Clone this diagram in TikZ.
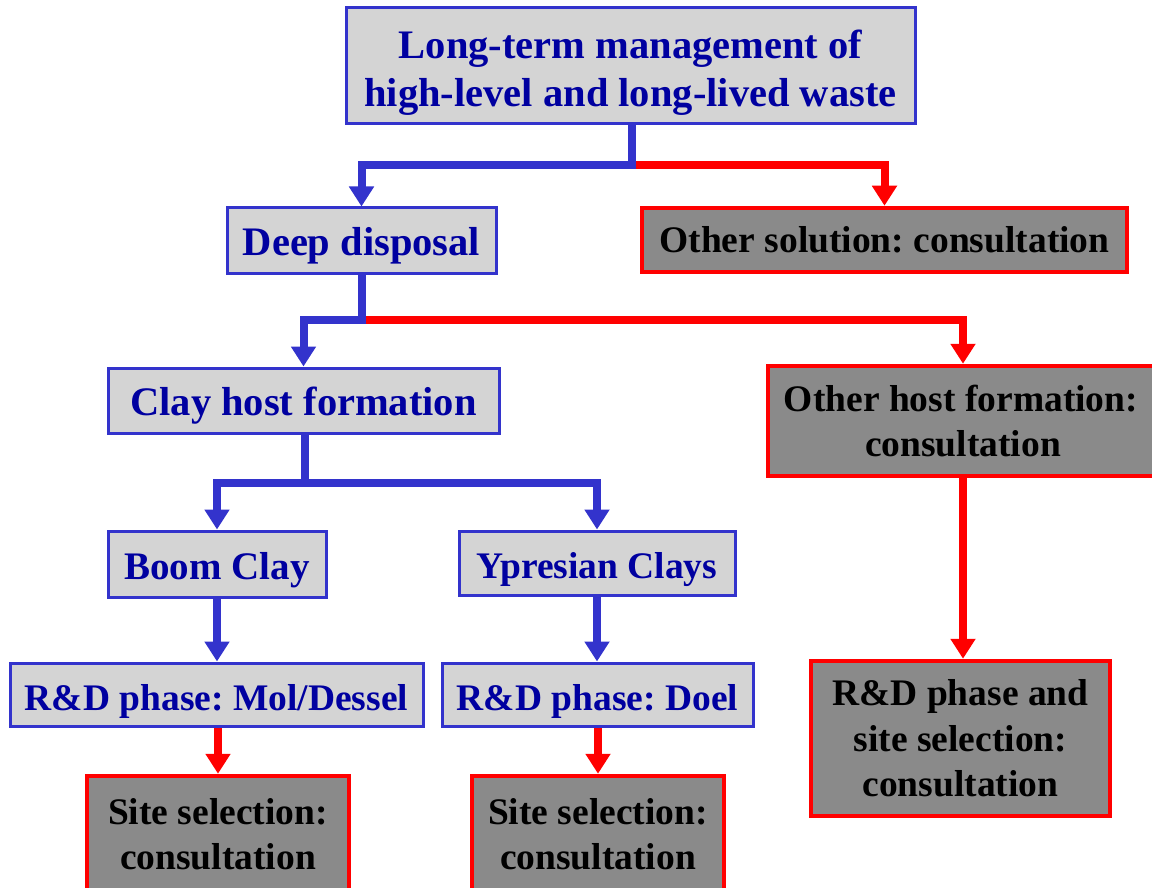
\documentclass[tikz,border=0pt]{standalone}
\usepackage{fontspec}
\setmainfont{Liberation Serif}
\usetikzlibrary{arrows.meta}
\definecolor{lineblue}{RGB}{51,51,204}
\definecolor{textblue}{RGB}{0,0,160}
\definecolor{linered}{RGB}{255,0,0}
\definecolor{lightfill}{RGB}{212,212,212}
\definecolor{darkfill}{RGB}{138,138,138}
\newcommand{\lowstrut}[1]{\rule{0pt}{#1}}
\tikzset{
  bluebox/.style={draw=lineblue, line width=3pt, fill=lightfill, text=textblue,
    font=\fontsize{40.5}{48}\selectfont\bfseries, align=center, inner sep=0pt,
    execute at begin node={\frenchspacing\lowstrut{39pt}}},
  smallblue/.style={bluebox, font=\fontsize{37.5}{45}\selectfont\bfseries,
    execute at begin node={\frenchspacing\lowstrut{36pt}}},
  redbox/.style={draw=linered, line width=4.5pt, fill=darkfill, text=black,
    font=\fontsize{37.5}{45.5}\selectfont\bfseries, align=center, inner sep=0pt,
    execute at begin node={\frenchspacing}},
  blueflow/.style={draw=lineblue, line width=8pt,
    -{Triangle[width=24pt,length=20pt]}},
  redflow/.style={draw=linered, line width=8pt,
    -{Triangle[width=24pt,length=20pt]}},
}
\begin{document}
\begin{tikzpicture}[x=1pt,y=-1pt]
\useasboundingbox (0,0) rectangle (1152,888);
\begin{scope}
\clip (0,0) rectangle (1152,888);

% boxes
\node[bluebox, minimum width=569, minimum height=116,
  execute at begin node={\frenchspacing}] (top) at (630.5,66)
  {\lowstrut{41pt}Long-term management of\\high-level and long-lived waste};
\node[bluebox, minimum width=269, minimum height=65] (deep) at (361.5,240.5)
  {Deep disposal};
\node[redbox, minimum width=485, minimum height=64] (othersol) at (884.5,240)
  {Other solution: consultation};
\node[bluebox, minimum width=391, minimum height=65] (clay) at (303.5,400.5)
  {Clay host formation};
\node[redbox, minimum width=390, minimum height=110] (otherhost) at (963,421)
  {\hspace*{-4pt}Other host formation:\\consultation};
\node[bluebox, font=\fontsize{39}{46}\selectfont\bfseries,
  minimum width=218, minimum height=66] (boom) at (217,564)
  {Boom Clay};
\node[smallblue, minimum width=276, minimum height=64] (ypres) at (597,563)
  {Ypresian Clays};
\node[smallblue, minimum width=413, minimum height=63] (rdmol) at (216.5,694.5)
  {R\&D phase: Mol/Dessel};
\node[smallblue, minimum width=311, minimum height=63] (rddoel) at (597.5,694.5)
  {R\&D phase: Doel};
\node[redbox, minimum width=299, minimum height=155] (rdsite) at (960.5,738.5)
  {R\&D phase and\\site selection:\\consultation};
\node[redbox, minimum width=262, minimum height=116] (site1) at (218,834)
  {Site selection:\\consultation};
\node[redbox, minimum width=252, minimum height=116] (site2) at (598,834)
  {Site selection:\\consultation};

% branch points
\coordinate (j1) at (632,165);
\coordinate (j2) at (362,320);
\coordinate (j3) at (305,483);

% connectors
\draw[redflow] (j1) -| (othersol.north);
\draw[blueflow] (top.south -| j1) -- (j1) -| (deep.north);
\draw[redflow] (j2) -| (otherhost.north);
\draw[blueflow] (deep.south -| j2) -- (j2) -| (clay.north);
\draw[blueflow] (clay.south -| j3) -- (j3) -| (boom.north);
\draw[blueflow] (j3) -| (ypres.north);
\draw[blueflow] (boom.south) -- (rdmol.north -| boom.south);
\draw[blueflow] (ypres.south) -- (rddoel.north -| ypres.south);
\draw[redflow] (otherhost.south) -- (rdsite.north -| otherhost.south);
\draw[redflow] (rdmol.south -| site1.north) -- (site1.north);
\draw[redflow] (rddoel.south -| site2.north) -- (site2.north);
\end{scope}
\end{tikzpicture}
\end{document}
